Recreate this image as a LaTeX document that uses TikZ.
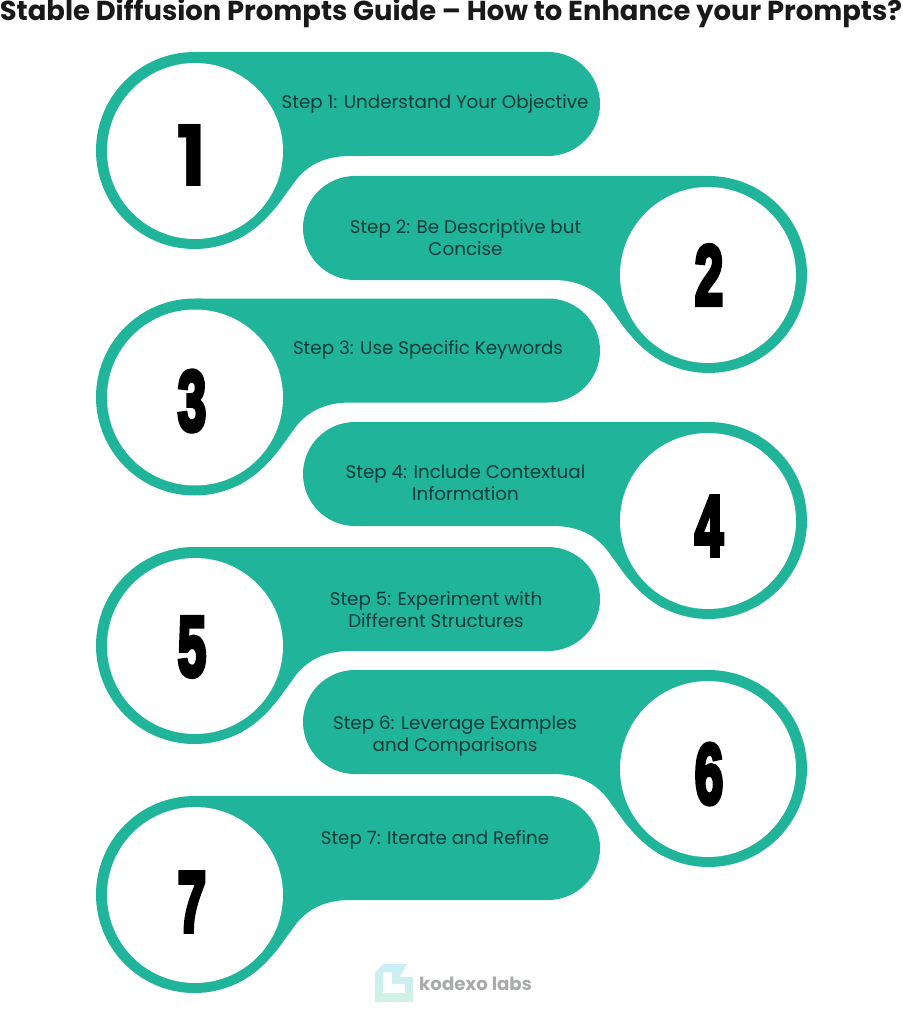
\documentclass[tikz,border=0pt]{standalone}
\usepackage{fontspec}
\setmainfont{Poppins}
\newfontfamily\numfont[FakeBold=6]{Liberation Sans Bold}
\usetikzlibrary{positioning}
\definecolor{bannerteal}{HTML}{20B49A}
\definecolor{stepink}{HTML}{0E3B38}
\definecolor{logogray}{HTML}{A9ABAB}
\definecolor{logotop}{HTML}{C8EEF6}
\definecolor{logobottom}{HTML}{D2F1E4}
\tikzset{
    steptext/.style={text=stepink, align=center, inner sep=0pt, font=\fontsize{18.3}{22}\selectfont},
    stepnum/.style={inner sep=0pt, text=black, font=\fontsize{85}{85}\numfont}
}
% one banner with its ring, drawn for the left side
\newcommand{\bannershape}{%
    \fill[bannerteal] (195, 52) -- (548, 52) arc[start angle=-90, end angle=90, radius=52]
    -- (350, 156) .. controls (325, 156) and (308, 165) .. (296, 180)
    -- (280, 202) .. controls (272, 213) and (258, 227) .. (240, 238) -- cycle;
    \fill[bannerteal] (194.5, 150.5) circle[radius=98.5];
    \fill[white] (195, 151) circle[radius=88];
}
\begin{document}
\begin{tikzpicture}[x=1pt, y=-1pt]
    \useasboundingbox (0, 0) rectangle (902, 1024);

    \node[inner sep=0pt, text=black!90, font=\fontsize{27.4}{27.4}\bfseries\selectfont] (title) at (451, 13)
    {Stable Diffusion Prompts Guide -- How to Enhance your Prompts?};

    \foreach \off in {0, 246.5, 495, 744} {
        \begin{scope}[shift={(0, \off)}]
            \bannershape
        \end{scope}
    }
    \foreach \off in {124, 370, 618} {
        \begin{scope}[shift={(903, \off)}, xscale=-1]
            \bannershape
        \end{scope}
    }

    \node[steptext] (step1) at (435, 104) {Step 1: Understand Your Objective};
    \node[steptext] (step2) at (465.5, 238) {Step 2: Be Descriptive but\\Concise};
    \node[steptext] (step3) at (428, 350) {Step 3: Use Specific Keywords};
    \node[steptext] (step4) at (465.5, 483) {Step 4: Include Contextual\\Information};
    \node[steptext] (step5) at (436, 610) {Step 5: Experiment with\\Different Structures};
    \node[steptext] (step6) at (455, 736) {Step 6: Leverage Examples\\and Comparisons};
    \node[steptext] (step7) at (435, 840) {Step 7: Iterate and Refine};

    \node[stepnum] (num1) at (192, 155) {\normalfont\bfseries\scalebox{0.95}[1]{1}};
    \node[stepnum] (num2) at (709, 275) {\scalebox{0.6}[1]{2}};
    \node[stepnum] (num3) at (192, 401) {\scalebox{0.6}[1]{3}};
    \node[stepnum] (num4) at (709, 526) {\scalebox{0.6}[1]{4}};
    \node[stepnum] (num5) at (192, 647) {\scalebox{0.6}[1]{5}};
    \node[stepnum] (num6) at (709, 774) {\scalebox{0.6}[1]{6}};
    \node[stepnum] (num7) at (192, 902) {\scalebox{0.6}[1]{7}};

    % logo
    \shade[top color=logotop, bottom color=logobottom, even odd rule]
    (375, 973) -- (383, 964) -- (407, 964) -- (400, 977) -- (413, 977) -- (413, 1002) -- (375, 1002) -- cycle
    (383, 972) -- (383, 993) -- (405, 993) -- (405, 984) -- (392, 984) -- (392, 972) -- cycle;
    \node[inner sep=0pt, text=logogray, font=\fontsize{18.2}{18.2}\bfseries\selectfont, anchor=west] (logo) at (419, 984) {kodexo labs};
\end{tikzpicture}
\end{document}
